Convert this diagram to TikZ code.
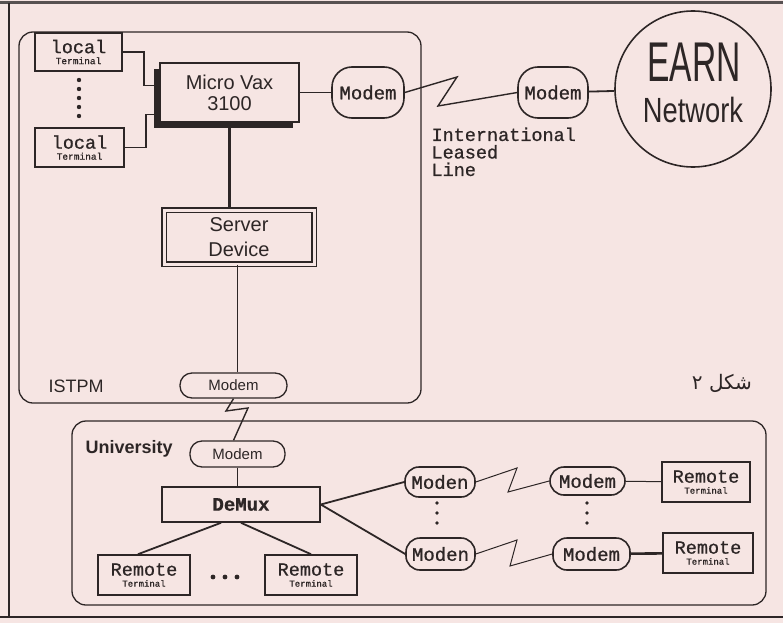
\documentclass[tikz,border=0pt]{standalone}
\usepackage{fontspec}
\setmainfont{Liberation Sans}
\newfontfamily\dotfont[FakeBold=0.8]{Liberation Mono}
\newfontfamily\earnfont[FakeStretch=0.6]{Liberation Sans}
\newfontfamily\netfont[FakeStretch=0.78]{Liberation Sans}
\newfontfamily\arabicfont[Script=Arabic]{DejaVu Sans}
\TeXXeTstate=1
\usetikzlibrary{positioning, shadows}
\definecolor{paper}{RGB}{246,229,227}
\definecolor{ink}{RGB}{45,38,38}

\begin{document}
\begin{tikzpicture}[
    x=1pt, y=-1pt,
    every node/.style={text=ink},
    wire/.style={draw=ink, line width=1.8pt},
    thinwire/.style={draw=ink, line width=1pt},
    zig/.style={draw=ink, line width=1.4pt},
    group/.style={draw=ink, line width=1.3pt, rounded corners=14pt},
    box/.style={rectangle, draw=ink, line width=1.6pt, fill=paper,
                inner sep=0pt, align=center},
    term/.style={box, font=\dotfont\fontsize{18.5}{11}\selectfont},
    modem/.style={box, rounded corners=14pt,
                  font=\dotfont\fontsize{19}{19}\selectfont},
    smodem/.style={box, line width=1.3pt, rounded corners=12pt,
                   font=\fontsize{15}{15}\selectfont},
]

% paper and frame
\fill[paper] (0,0) rectangle (783,623);
\useasboundingbox (0,0) rectangle (783,623);
\draw[ink!80, line width=2.5pt] (0,2.5) -- (783,2.5);
\draw[ink, line width=1.3pt] (9,3) -- (9,617);
\draw[ink, line width=1.8pt] (0,617) -- (783,617);

% ISTPM site
\draw[group] (19,32) rectangle (421,403);
\node[font=\fontsize{18}{18}\selectfont, anchor=base west] (istpm) at (45,392) {ISTPM};

\node[term, minimum width=87pt, minimum height=38pt] (lt1) at (78.5,52)
     {local\\{\fontsize{9.5}{11}\selectfont Terminal}};
\node[term, minimum width=89pt, minimum height=39pt] (lt2) at (79.5,147.5)
     {local\\{\fontsize{9.5}{11}\selectfont Terminal}};
\foreach \y in {80,89,98,107,116} \fill[ink] (79,\y) circle (2.2pt);

\node[box, minimum width=139pt, minimum height=59pt, font=\fontsize{20}{21}\selectfont,
      drop shadow={shadow xshift=-6pt, shadow yshift=-6pt, fill=ink, opacity=1}]
     (vax) at (229.5,92.5) {Micro Vax\\3100};
\node[modem, minimum width=72pt, minimum height=51pt, rounded corners=20pt]
     (modemIst) at (368,92.5) {Modem};
\node[box, minimum width=150pt, minimum height=54pt, line width=1.4pt,
      double=paper, double distance=3pt, font=\fontsize{20}{25}\selectfont]
     (server) at (239,237) {Server\\Device};
\node[smodem, minimum width=107pt, minimum height=25pt] (modemOut) at (233.5,385.5) {Modem};

\draw[wire] (lt1.east) -- ++(21,0) |- ([yshift=7pt]vax.west);
\draw[wire] (lt2.east) -- ++(21,0) |- ([yshift=-22pt]vax.west);
\draw[wire] (vax) -- (modemIst);
\draw[wire, line width=2.4pt] (vax.south) -- (vax.south |- server.north);
\draw[thinwire] ([xshift=-2pt]server.south) -- ([xshift=-2pt]server.south |- modemOut.north);

% leased line to EARN
\node[modem, minimum width=70pt, minimum height=51pt, rounded corners=20pt]
     (modemEarn) at (553,92.5) {Modem};
\node[circle, draw=ink, line width=1.6pt, minimum size=156pt, inner sep=0pt] (earn) at (693,89) {};
\node[font=\earnfont\fontsize{56}{56}\selectfont] (earnA) at (694,62) {EARN};
\node[font=\netfont\fontsize{35}{35}\selectfont] (earnB) at (693,110) {Network};
\draw[zig] (modemIst.east) -- (457,77) -- (438,106) -- (modemEarn.west);
\draw[wire] (modemEarn) -- (earn);
\node[font=\dotfont\fontsize{18.5}{17.5}\selectfont, align=left, anchor=north west]
     (leased) at (428,124) {International\\Leased\\Line};

\node[font=\arabicfont\fontsize{20}{20}\selectfont] (fig) at (722,383) {\beginR شكل ٢\endR};

% University site
\draw[group] (72,421) rectangle (766,605);
\node[font=\bfseries\fontsize{18}{18}\selectfont, anchor=base west] (uni) at (82,453) {University};

\node[smodem, minimum width=95pt, minimum height=26pt] (modemUni) at (237.5,454) {Modem};
\node[box, minimum width=158pt, minimum height=35pt,
      font=\dotfont\bfseries\fontsize{19}{19}\selectfont] (demux) at (241,504.5) {DeMux};
\node[term, minimum width=92pt, minimum height=40pt] (rt1) at (144,575)
     {Remote\\{\fontsize{9}{11}\selectfont Terminal}};
\node[term, minimum width=92pt, minimum height=40pt] (rt2) at (311,575)
     {Remote\\{\fontsize{9}{11}\selectfont Terminal}};
\foreach \x in {213,225,237} \fill[ink] (\x,577) circle (2.4pt);

\node[modem, minimum width=70pt, minimum height=30pt] (modenA) at (440,482) {Moden};
\node[modem, minimum width=69pt, minimum height=32pt] (modenB) at (440.5,554) {Moden};
\node[modem, minimum width=75pt, minimum height=28pt] (modemC) at (587.5,481) {Modem};
\node[modem, minimum width=77pt, minimum height=32pt] (modemD) at (591.5,554) {Modem};
\node[term, minimum width=88pt, minimum height=40pt] (rt3) at (706,482)
     {Remote\\{\fontsize{9}{11}\selectfont Terminal}};
\node[term, minimum width=90pt, minimum height=40pt] (rt4) at (708,553)
     {Remote\\{\fontsize{9}{11}\selectfont Terminal}};
\foreach \x in {437,587} \foreach \y in {503,513,523} \fill[ink] (\x,\y) circle (1.8pt);

\draw[zig] (modemOut.south) -- (226,411) -- (248,408) -- ([xshift=-4pt]modemUni.north);
\draw[thinwire] (modemUni.south) -- (modemUni.south |- demux.north);
\draw[wire] ([xshift=-20pt]demux.south) -- ([xshift=-6pt]rt1.north);
\draw[wire] (demux.south) -- (rt2.north);
\draw[wire] (demux.east) -- (modenA.west);
\draw[wire] (demux.east) -- (modenB.west);
\draw[thinwire] (modenA.east) -- (517,468) -- (508,492) -- (modemC.west);
\draw[thinwire] (modenB.east) -- (517,540) -- (510,566) -- (modemD.west);
\draw[thinwire] (modemC) -- (rt3);
\draw[wire, line width=2.6pt] (modemD) -- (rt4);

\end{tikzpicture}
\end{document}
